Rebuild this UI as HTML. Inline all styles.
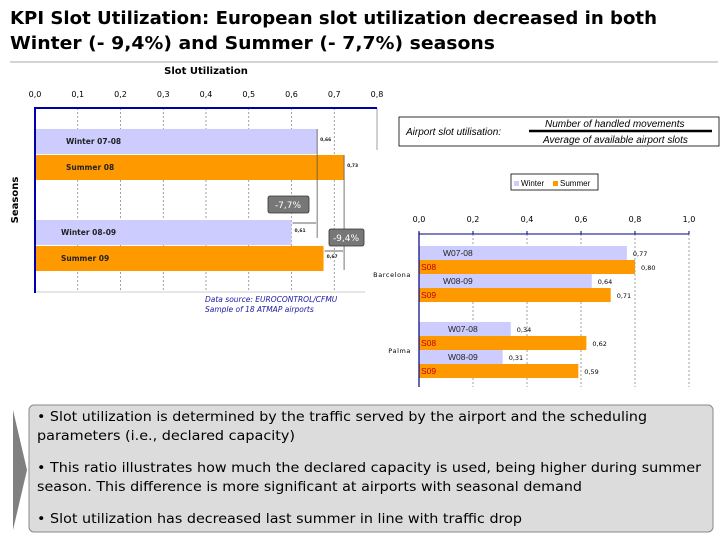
<!DOCTYPE html>
<html><head><meta charset="utf-8"><style>
body{margin:0;background:#fff;width:728px;height:546px;overflow:hidden;font-family:"DejaVu Sans","Liberation Sans",sans-serif}
svg{display:block}
</style></head><body>
<svg id="s" width="728" height="546" xmlns="http://www.w3.org/2000/svg">
<text x="10" y="24" font-size="18" font-weight="bold" fill="#000" textLength="647" lengthAdjust="spacingAndGlyphs">KPI Slot Utilization: European slot utilization decreased in both</text>
<text x="10" y="49" font-size="18" font-weight="bold" fill="#000" textLength="485" lengthAdjust="spacingAndGlyphs">Winter (- 9,4%) and Summer (- 7,7%) seasons</text>
<line x1="10" y1="62" x2="718" y2="62" stroke="#aaa" stroke-width="1"/>
<g id="left"></g>
<g id="right"></g>
<g>
<rect x="399" y="117" width="320" height="29" fill="#fff" stroke="#000" stroke-width="0.8"/>
<text x="406" y="135" font-size="10" font-style="italic" font-family="Liberation Sans,sans-serif" fill="#000">Airport slot utilisation:</text>
<line x1="529" y1="131" x2="712" y2="131" stroke="#000" stroke-width="2.5"/>
<text x="545" y="127" font-size="10" font-style="italic" font-family="Liberation Sans,sans-serif">Number of handled movements</text>
<text x="543" y="143" font-size="10" font-style="italic" font-family="Liberation Sans,sans-serif">Average of available airport slots</text>
</g>
<g>
<polygon points="13,410 27,470 13,530" fill="#808080"/>
<rect x="29" y="405" width="684" height="127" rx="5" fill="#dcdcdc" stroke="#888" stroke-width="1"/>
<g font-size="13.5" fill="#000">
<text x="37" y="421" textLength="610" lengthAdjust="spacingAndGlyphs">• Slot utilization is determined by the traffic served by the airport and the scheduling</text>
<text x="37" y="440" textLength="258" lengthAdjust="spacingAndGlyphs">parameters (i.e., declared capacity)</text>
<text x="37" y="472" textLength="664" lengthAdjust="spacingAndGlyphs">• This ratio illustrates how much the declared capacity is used, being higher during summer</text>
<text x="37" y="491" textLength="545" lengthAdjust="spacingAndGlyphs">season. This difference is more significant at airports with seasonal demand</text>
<text x="37" y="523" textLength="485" lengthAdjust="spacingAndGlyphs">• Slot utilization has decreased last summer in line with traffic drop</text>
</g></g>
</svg>
<script>
const leftCats=["Winter 07-08","Summer 08","Winter 08-09","Summer 09"];
const leftVals=[0.66,0.723,0.60,0.675];
const leftLabels=["0,66","0,73","0,61","0,67"];
const leftTicks=[0,0.1,0.2,0.3,0.4,0.5,0.6,0.7,0.8];
const cities=["Barcelona","Palma"];
const rightCats=["W07-08","S08","W08-09","S09"];
const barcelonaVals=[0.77,0.80,0.64,0.71];
const palmaVals=[0.34,0.62,0.31,0.59];
const rightTicks=[0,0.2,0.4,0.6,0.8,1.0];
const NS="http://www.w3.org/2000/svg";
function mk(p,t,a,txt){const e=document.createElementNS(NS,t);for(const k in a)e.setAttribute(k,a[k]);if(txt!=null)e.textContent=txt;p.appendChild(e);return e;}
const WIN="#ccccff",SUM="#ff9900";
const L=document.getElementById('left');
const lx=v=>35+v*427.5;
const lTop=[129,155,220,246],lH=25;
let t=mk(L,'text',{x:206,y:74,'font-size':10,'font-weight':'bold','text-anchor':'middle'},'Slot Utilization');


leftTicks.forEach(v=>{
 const g=mk(L,'line',{x1:lx(v),y1:108,x2:lx(v),y2:v>=0.8?150:292,stroke:'#777','stroke-dasharray':v>=0.8?'none':'2,2','stroke-width':0.7});
 
 
 const tl=mk(L,'text',{x:lx(v),y:97,'font-size':8,'text-anchor':'middle',fill:'#000'},v.toFixed(1).replace('.',','));
 
 
});
mk(L,'line',{x1:35,y1:292,x2:365,y2:292,stroke:'#bbb','stroke-width':0.7});
leftVals.forEach((v,i)=>{
 const r=mk(L,'rect',{x:36,y:lTop[i],width:lx(v)-36,height:lH,fill:i%2?SUM:WIN});
 
 
 const c=mk(L,'text',{x:i<2?66:61,y:lTop[i]+15,'font-size':7.5,'font-weight':'bold',fill:'#222'},leftCats[i]);
 
 
 const vl=mk(L,'text',{x:lx(v)+3,y:lTop[i]+12,'font-size':4.5,'font-weight':'bold',fill:'#222'},leftLabels[i]);
 
 
});
mk(L,'line',{x1:35,y1:108,x2:377,y2:108,stroke:'#0000aa','stroke-width':2});
mk(L,'line',{x1:35,y1:107,x2:35,y2:293,stroke:'#0000aa','stroke-width':2});
mk(L,'line',{x1:lx(leftVals[0]),y1:129,x2:lx(leftVals[0]),y2:238,stroke:'#555','stroke-width':0.8});
mk(L,'line',{x1:lx(leftVals[1]),y1:155,x2:lx(leftVals[1]),y2:270,stroke:'#555','stroke-width':0.8});
mk(L,'line',{x1:lx(leftVals[2])+1,y1:223,x2:lx(leftVals[0])-1,y2:223,stroke:'#999','stroke-width':1.5});
mk(L,'line',{x1:lx(leftVals[3])+1,y1:251,x2:lx(leftVals[1])-1,y2:251,stroke:'#999','stroke-width':1.5});
const b1=mk(L,'rect',{x:268,y:196,width:41,height:17,rx:2,fill:'#777',stroke:'#333','stroke-width':0.8});


mk(L,'text',{x:288,y:208,'font-size':9,fill:'#fff','text-anchor':'middle'},'-7,7%');
const b2=mk(L,'rect',{x:329,y:229,width:35,height:17,rx:2,fill:'#777',stroke:'#333','stroke-width':0.8});


mk(L,'text',{x:346,y:241,'font-size':9,fill:'#fff','text-anchor':'middle'},'-9,4%');
let ax=mk(L,'text',{x:0,y:0,'font-size':10,'font-weight':'bold',transform:'translate(18,200) rotate(-90)','text-anchor':'middle'},'Seasons');


mk(L,'text',{x:205,y:302,'font-size':7.5,'font-style':'italic',fill:'#1a1aa6'},'Data source: EUROCONTROL/CFMU');
mk(L,'text',{x:205,y:312,'font-size':7.5,'font-style':'italic',fill:'#1a1aa6'},'Sample of 18 ATMAP airports');
const R=document.getElementById('right');
const rx=v=>419+v*270;
const lg=mk(R,'rect',{x:511,y:174,width:87,height:16,fill:'#fff',stroke:'#000','stroke-width':0.8});


mk(R,'rect',{x:514,y:181,width:5,height:5,fill:WIN});
mk(R,'text',{x:521,y:186,'font-size':8,'font-family':'Liberation Sans,sans-serif'},'Winter');
mk(R,'rect',{x:553,y:181,width:5,height:5,fill:SUM});
mk(R,'text',{x:560,y:186,'font-size':8,'font-family':'Liberation Sans,sans-serif'},'Summer');
rightTicks.forEach(v=>{
 const g=mk(R,'line',{x1:rx(v),y1:234,x2:rx(v),y2:387,stroke:'#777','stroke-dasharray':'2,2','stroke-width':0.7});
 
 
 const tl=mk(R,'text',{x:rx(v),y:222,'font-size':8,'text-anchor':'middle'},v.toFixed(1).replace('.',','));
 
 
});
[barcelonaVals,palmaVals].forEach((vals,ci)=>{
 const y0=ci?322:246;
 vals.forEach((v,i)=>{
  const y=y0+i*14;
  const r=mk(R,'rect',{x:419,y:y,width:rx(v)-419,height:14,fill:i%2?SUM:WIN});
  
  
  const c=mk(R,'text',{x:i%2?421:(ci?448:443),y:y+10,'font-size':8.5,'font-family':'Liberation Sans,sans-serif',fill:i%2?'#c00000':'#222'},rightCats[i]);
  
  
  const vl=mk(R,'text',{x:rx(v)+6,y:y+10,'font-size':6.5},v.toFixed(2).replace('.',','));
  
  
 });
 const cl=mk(R,'text',{x:411,y:ci?353:277,'font-size':6.5,'text-anchor':'end','letter-spacing':'0.6'},cities[ci]);
 
 
});
mk(R,'line',{x1:419,y1:234,x2:689,y2:234,stroke:'#000080','stroke-width':1});
mk(R,'line',{x1:419,y1:232,x2:419,y2:387,stroke:'#000080','stroke-width':1.2});
rightTicks.forEach(v=>mk(R,'line',{x1:rx(v),y1:231,x2:rx(v),y2:234,stroke:'#000080'}));
</script>
</body></html>
